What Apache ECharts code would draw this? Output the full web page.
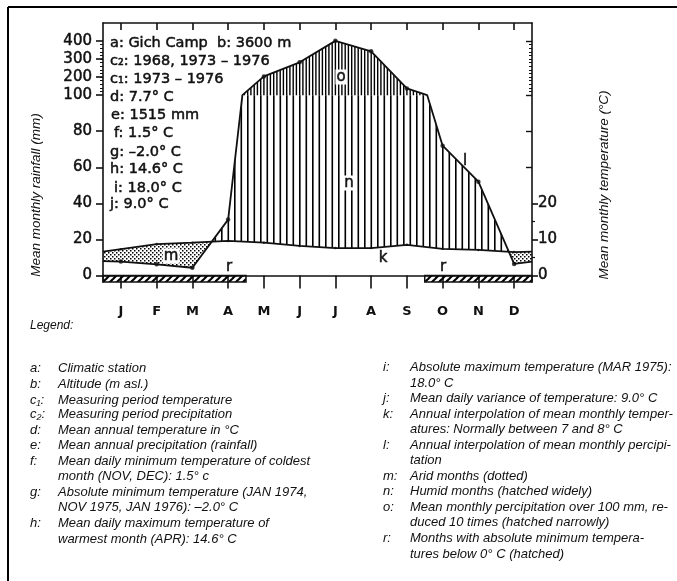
<!DOCTYPE html>
<html><head><meta charset="utf-8">
<script src="https://cdn.jsdelivr.net/npm/echarts@6/dist/echarts.min.js"></script>
<style>html,body{margin:0;padding:0;background:#fff}#c{width:677px;height:581px}</style>
</head><body><div id="c"></div>
<script>
// ---------------- data ----------------
const months = ['J','F','M','A','M','J','J','A','S','O','N','D'];
const precipMm = [7.7, 6.2, 4.3, 31, 204, 282, 401, 343, 137, 72, 52, 6.4];
const precipEdges = [8.0, 7.7];          // values where the curve meets the left / right frame
const tempC = [7.3, 8.7, 9.1, 9.6, 9.1, 8.2, 7.6, 7.6, 8.5, 7.4, 7.1, 6.5];
const tempEdges = [6.6, 6.6];
const frostMonths = [1,1,1,1,0,0,0,0,0,1,1,1];
const rainTickLabels = [0,20,40,60,80,100,200,300,400];
const tempTickLabels = [0,10,20];
const stationLines = ['a: Gich Camp  b: 3600 m','c\u2082: 1968, 1973 \u2013 1976','c\u2081: 1973 \u2013 1976','d: 7.7\u00b0 C','e: 1515 mm','f: 1.5\u00b0 C','g: \u20132.0\u00b0 C','h: 14.6\u00b0 C','i: 18.0\u00b0 C','j: 9.0\u00b0 C'];
const legendLeft = [
  ['a:','Climatic station'],['b:','Altitude (m asl.)'],['c\u2081:','Measuring period temperature'],
  ['c\u2082:','Measuring period precipitation'],['d:','Mean annual temperature in \u00b0C'],
  ['e:','Mean annual precipitation (rainfall)'],['f:','Mean daily minimum temperature of coldest'],
  ['','month (NOV, DEC): 1.5\u00b0 c'],['g:','Absolute minimum temperature (JAN 1974,'],
  ['','NOV 1975, JAN 1976): \u20132.0\u00b0 C'],['h:','Mean daily maximum temperature of'],
  ['','warmest month (APR): 14.6\u00b0 C']];
const legendRight = [
  ['i:','Absolute maximum temperature (MAR 1975):'],['','18.0\u00b0 C'],
  ['j:','Mean daily variance of temperature: 9.0\u00b0 C'],
  ['k:','Annual interpolation of mean monthly temper-'],['','atures: Normally between 7 and 8\u00b0 C'],
  ['l:','Annual interpolation of mean monthly percipi-'],['','tation'],
  ['m:','Arid months (dotted)'],['n:','Humid months (hatched widely)'],
  ['o:','Mean monthly percipitation over 100 mm, re-'],['','duced 10 times (hatched narrowly)'],
  ['r:','Months with absolute minimum tempera-'],['','tures below 0\u00b0 C (hatched)']];

// ---------------- helpers ----------------
const toDisp = mm => mm <= 100 ? mm : 100 + (mm - 100) / 10;
const fromDisp = v => v <= 100 ? v : 100 + (v - 100) * 10;
const Y_MIN = -3.6, Y_MAX = 140;

const xs = [0, ...months.map((m,i)=>i+0.5), 12];
const P = [precipEdges[0], ...precipMm, precipEdges[1]];
const T = [tempEdges[0], ...tempC, tempEdges[1]];

let nodes = [];
for (let i=0;i<xs.length;i++){
  nodes.push({x:xs[i], p:P[i], t:T[i]});
  if (i<xs.length-1 && (P[i]-100)*(P[i+1]-100) < 0){
    const f=(100-P[i])/(P[i+1]-P[i]);
    nodes.push({x:xs[i]+f*(xs[i+1]-xs[i]), p:100, t:T[i]+f*(T[i+1]-T[i])});
  }
}
nodes = nodes.map(n=>({x:n.x, pd:toDisp(n.p), td:2*n.t}));
const precipLine = nodes.map(n=>[n.x, n.pd]);
let N2=[];
for (let i=0;i<nodes.length;i++){
  N2.push(nodes[i]);
  if (i<nodes.length-1){
    const a=nodes[i], b=nodes[i+1];
    const da=a.pd-a.td, db=b.pd-b.td;
    if (da*db<0){
      const f=da/(da-db);
      const y=a.pd+f*(b.pd-a.pd);
      N2.push({x:a.x+f*(b.x-a.x), pd:y, td:y});
    }
  }
}
function runs(cond){
  const out=[]; let cur=null;
  for (let i=0;i<N2.length-1;i++){
    const ok=cond(N2[i])&&cond(N2[i+1]);
    if (ok){ if(!cur){cur=[N2[i]];} cur.push(N2[i+1]); }
    else if (cur){ out.push(cur); cur=null; }
  }
  if (cur) out.push(cur);
  return out;
}
const eps=1e-9;
function mkPattern(w,h,draw){
  const c=document.createElement('canvas'); c.width=w; c.height=h;
  const g=c.getContext('2d'); draw(g,w,h); return {image:c, repeat:'repeat'};
}
const wideHatch = mkPattern(13,8,(g,w,h)=>{g.fillStyle='#000';g.fillRect(0,0,1.6,h);g.fillRect(6.5,0,1.6,h);});
const narrowHatch = mkPattern(13,8,(g,w,h)=>{g.fillStyle='#000';[0,3.2,6.5,9.7].forEach(x=>g.fillRect(x,0,1.4,h));});
const dots = mkPattern(4,4,(g)=>{g.fillStyle='#000';g.fillRect(0,0,1.5,1.5);g.fillRect(2,2,1.5,1.5);});
const diag = mkPattern(7,7,(g)=>{g.strokeStyle='#000';g.lineWidth=2.2;[-7,0,7].forEach(k=>{g.beginPath();g.moveTo(k-1,8);g.lineTo(k+8,-1);g.stroke();});});

const polys=[];
runs(n=>n.pd-n.td<=eps).forEach(r=>{
  polys.push({fill:dots, pts:[...r.map(n=>[n.x,n.td]), ...r.slice().reverse().map(n=>[n.x,n.pd])]});
});
runs(n=>n.pd-n.td>=-eps).forEach(r=>{
  polys.push({fill:wideHatch, pts:[...r.map(n=>[n.x,Math.min(n.pd,100)]), ...r.slice().reverse().map(n=>[n.x,n.td])]});
});
runs(n=>n.pd>=100-eps).forEach(r=>{
  polys.push({fill:narrowHatch, pts:[...r.map(n=>[n.x,n.pd]), ...r.slice().reverse().map(n=>[n.x,100])]});
});
const frostRuns=[]; {let s=null; frostMonths.forEach((v,i)=>{ if(v&&s===null)s=i; if(!v&&s!==null){frostRuns.push([s,i]);s=null;} }); if(s!==null)frostRuns.push([s,frostMonths.length]);}

const monthPos = months.map((m,i)=>i+0.5);
const range=(a,b,s)=>{const o=[];for(let v=a;v<=b+1e-9;v+=s)o.push(+v.toFixed(3));return o;};
const BLK='#111';
const yBase = {type:'value', min:Y_MIN, max:Y_MAX, splitLine:{show:false}};
const tickStyle = w=>({color:BLK,width:w});
const boldish = {textBorderColor:BLK, textBorderWidth:0.5};      // axis labels
const boldText = {stroke:BLK, lineWidth:0.5};                      // graphic texts

const option = {
  animation:false,
  backgroundColor:'#fff',
  grid:{left:103, right:145, top:23, bottom:299},
  xAxis:[
    {type:'value', min:0, max:12, position:'bottom', splitLine:{show:false},
     axisLine:{show:true, onZero:true, lineStyle:{color:BLK,width:1.6}},
     axisTick:{show:true, customValues:monthPos, length:13, lineStyle:tickStyle(1.6)},
     axisLabel:{customValues:monthPos, formatter:v=>months[Math.round(v-0.5)], margin:23,
       color:BLK, fontFamily:'DejaVu Sans', fontWeight:'bold', fontSize:13}},
    {type:'value', min:0, max:12, position:'top', splitLine:{show:false},
     axisLine:{show:true, onZero:false, lineStyle:{color:BLK,width:1.6}},
     axisTick:{show:true, inside:true, customValues:monthPos, length:7, lineStyle:tickStyle(1.6)},
     axisLabel:{show:false}}
  ],
  yAxis:[
    Object.assign({}, yBase, {position:'left',
      axisLine:{show:true,onZero:false,lineStyle:{color:BLK,width:1.6}},
      axisTick:{show:true, customValues:rainTickLabels.map(toDisp), length:7, lineStyle:tickStyle(1.6)},
      axisLabel:Object.assign({customValues:rainTickLabels.map(toDisp), formatter:v=>String(Math.round(fromDisp(v))),
        margin:11, color:BLK, fontFamily:'DejaVu Sans', fontSize:15}, boldish)}),
    Object.assign({}, yBase, {position:'left',
      axisLine:{show:false,onZero:false},
      axisTick:{show:true, customValues:range(102,128,2), length:3, lineStyle:tickStyle(1)},
      axisLabel:{show:false}}),
    Object.assign({}, yBase, {position:'right',
      axisLine:{show:true,onZero:false,lineStyle:{color:BLK,width:1.6}},
      axisTick:{show:true, customValues:tempTickLabels.map(t=>2*t), length:6, lineStyle:tickStyle(1.6)},
      axisLabel:Object.assign({customValues:tempTickLabels.map(t=>2*t), formatter:v=>String(Math.round(v/2)),
        margin:6, color:BLK, fontFamily:'DejaVu Sans', fontSize:15}, boldish)}),
    Object.assign({}, yBase, {position:'right',
      axisLine:{show:false,onZero:false},
      axisTick:{show:true, customValues:[10,30], length:3, lineStyle:tickStyle(1.2)},
      axisLabel:{show:false}}),
    Object.assign({}, yBase, {position:'right',
      axisLine:{show:false,onZero:false},
      axisTick:{show:true, inside:true, customValues:[60,80,100,130], length:6, lineStyle:tickStyle(1.4)},
      axisLabel:{show:false}}),
    Object.assign({}, yBase, {position:'right',
      axisLine:{show:false,onZero:false},
      axisTick:{show:true, inside:true, customValues:range(102,128,2), length:3, lineStyle:tickStyle(1)},
      axisLabel:{show:false}})
  ],
  series:[
    {type:'custom', name:'areas', silent:true, z:1, clip:false,
     data:polys.map((p,i)=>[i,0]),
     renderItem:(params,api)=>{
       const pl=polys[params.dataIndex];
       return {type:'polygon', shape:{points:pl.pts.map(pt=>api.coord(pt))}, style:{fill:pl.fill, stroke:null}};
     }},
    {type:'custom', name:'frost', silent:true, z:3, clip:false,
     data:frostRuns.map((r,i)=>[r[0],0]),
     renderItem:(params,api)=>{
       const r=frostRuns[params.dataIndex];
       const a=api.coord([r[0],0]), b=api.coord([r[1],Y_MIN]);
       return {type:'rect', shape:{x:a[0],y:a[1],width:b[0]-a[0],height:b[1]-a[1]},
         style:{fill:diag, stroke:BLK, lineWidth:1.5}};
     }},
    {type:'line', name:'temperature', z:4, data:xs.map((x,i)=>[x,2*T[i]]), showSymbol:false,
     lineStyle:{color:BLK,width:1.7}},
    {type:'line', name:'precipitation', z:4, data:precipLine, showSymbol:false,
     lineStyle:{color:BLK,width:1.8}},
    {type:'scatter', name:'precip points', z:5, data:precipMm.map((v,i)=>[i+0.5,toDisp(v)]),
     symbolSize:4.5, itemStyle:{color:BLK}},
    {type:'scatter', name:'temp points', z:5, data:tempC.map((v,i)=>[i+0.5,2*v]),
     symbolSize:2.5, itemStyle:{color:BLK}}
  ],
  graphic:[]
};

const G=option.graphic;
const txt=(x,y,text,o)=>G.push(Object.assign({type:'text', x, y, z:100, silent:true,
  style:Object.assign({text, fill:BLK, align:'left', verticalAlign:'middle', textAlign:'left', textVerticalAlign:'middle'}, o||{})}));
G.push({type:'line', shape:{x1:8,y1:7,x2:677,y2:7}, style:{stroke:'#000',lineWidth:2}, silent:true});
G.push({type:'line', shape:{x1:8,y1:7,x2:8,y2:581}, style:{stroke:'#000',lineWidth:2}, silent:true});
const stX=[110,110,110,110,111,114,110,110,114,110];
const stY=[43,61,79,97,115,133,152,169,188,204];
stationLines.forEach((s,i)=>txt(stX[i],stY[i],s,Object.assign({font:'14.5px "DejaVu Sans"'}, boldText)));
const lab=(x,y,t,bg)=>txt(x,y,t,Object.assign({font:'15px "DejaVu Sans"', align:'center', textAlign:'center'}, boldText, bg?{backgroundColor:'#fff', padding:[0,1,0,1]}:{}));
lab(341,77,'o',true); lab(349,183,'n',true); lab(383,258,'k'); lab(465,161,'l');
lab(171,256,'m',true); lab(229,267,'r'); lab(443,267,'r');
G.push({type:'text', x:36, y:195, rotation:Math.PI/2, silent:true,
  style:{text:'Mean monthly rainfall (mm)', font:'italic 13.5px "Liberation Sans"', fill:BLK, align:'center', verticalAlign:'middle', textAlign:'center', textVerticalAlign:'middle'}});
G.push({type:'text', x:604, y:185, rotation:Math.PI/2, silent:true,
  style:{text:'Mean monthly temperature (\u00b0C)', font:'italic 13.5px "Liberation Sans"', fill:BLK, align:'center', verticalAlign:'middle', textAlign:'center', textVerticalAlign:'middle'}});
txt(30,326,'Legend:',{font:'italic 12px "Liberation Sans"'});
const LF='italic 13px "Liberation Sans"';
const lY=[368,384,400,414,430,445,461,476,492,507,523,539];
legendLeft.forEach((r,i)=>{ if(r[0]) txt(30,lY[i],r[0],{font:LF}); txt(58,lY[i],r[1],{font:LF}); });
const rY=[367,383,398,414,429,445,460,476,491,507,522,538,554];
legendRight.forEach((r,i)=>{ if(r[0]) txt(383,rY[i],r[0],{font:LF}); txt(410,rY[i],r[1],{font:LF}); });

const chart=echarts.init(document.getElementById('c'),null,{renderer:'canvas'});
chart.setOption(option);
</script></body></html>
